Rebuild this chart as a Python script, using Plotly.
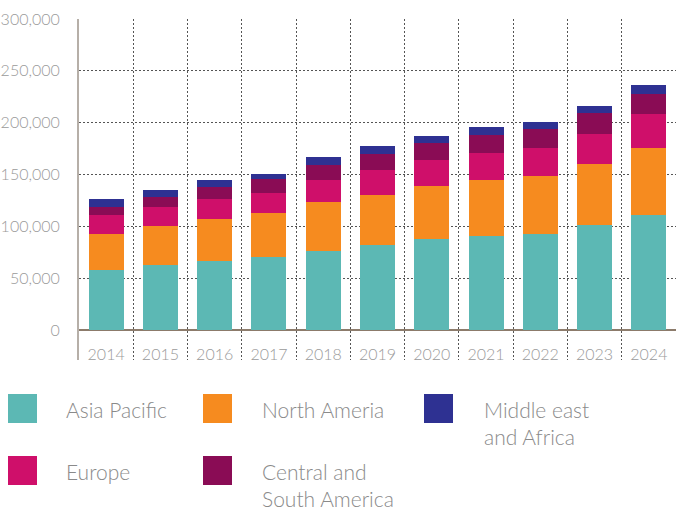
import plotly.graph_objects as go

years = ["2014", "2015", "2016", "2017", "2018", "2019", "2020", "2021", "2022", "2023", "2024"]
asia_pacific = [58000, 62500, 66500, 70000, 76500, 82000, 87500, 91000, 93000, 101000, 110500]
north_america = [35000, 38000, 40500, 42500, 46500, 48500, 51000, 54000, 56000, 59500, 65500]
europe = [17500, 18500, 19500, 19300, 22000, 24000, 25000, 26000, 27000, 29000, 32000]
central_south_america = [8500, 9500, 11000, 13500, 14500, 15500, 17000, 17500, 17500, 19500, 20000]
middle_east_africa = [7000, 7000, 7500, 5500, 7000, 7000, 6500, 7500, 7000, 7500, 8500]

series = [
    ("Asia Pacific", asia_pacific, "#5cb8b4"),
    ("North Ameria", north_america, "#f68b1f"),
    ("Europe", europe, "#cf0f6a"),
    ("Central and<br>South America", central_south_america, "#8a0c55"),
    ("Middle east<br>and Africa", middle_east_africa, "#2e3192"),
]

FONT = "Lato"
W, H = 676, 511
M_L, M_R, M_T, M_B = 79, 0, 19, 151
GRID = "#555555"

fig = go.Figure()
for name, vals, color in series:
    fig.add_trace(go.Bar(x=years, y=vals, name=name.replace("<br>", " "),
                         marker=dict(color=color, line=dict(width=0)),
                         showlegend=False))

fig.update_layout(
    width=W, height=H,
    margin=dict(l=M_L, r=M_R, t=M_T, b=M_B),
    barmode="stack", bargap=0.355,
    paper_bgcolor="white", plot_bgcolor="white",
    font=dict(family=FONT, weight=300, color="#9a9a9a", size=16),
    xaxis=dict(
        type="category", tickson="boundaries", showgrid=True,
        gridcolor=GRID, griddash="2px,2px", gridwidth=1,
        ticks="", showline=False, zeroline=False,
        tickfont=dict(family=FONT, weight=300, size=16, color="#9a9a9a"),
        ticklabelstandoff=-17,
    ),
    yaxis=dict(
        range=[-29000, 300000], tick0=0, dtick=50000, tickformat=",",
        showgrid=True, gridcolor=GRID, griddash="2px,2px", gridwidth=1,
        zeroline=True, zerolinecolor="#8c7b6b", zerolinewidth=2,
        showline=True, linecolor="#b6afa8", linewidth=2,
        ticks="", ticklabelstandoff=14,
        tickfont=dict(family=FONT, weight=300, size=16, color="#9a9a9a"),
    ),
)

# Custom legend (large square swatches, wrapped labels)
plot_h = H - M_T - M_B
plot_w = W - M_L - M_R

def px_to_paper(px, py):
    return (px - M_L) / plot_w, (H - M_B - py) / plot_h

legend_slots = [(8, 394), (203, 394), (8, 456), (203, 456), (424, 394)]
text_offset = [56, 57, 56, 57, 58]
sw = 29
for (name, vals, color), (sx, sy), toff in zip(series, legend_slots, text_offset):
    x0, y0 = px_to_paper(sx, sy)
    x1, y1 = px_to_paper(sx + sw, sy + sw)
    fig.add_shape(type="rect", xref="paper", yref="paper", x0=x0, x1=x1, y0=y1, y1=y0,
                  fillcolor=color, line=dict(width=0))
    tx, ty = px_to_paper(sx + toff, sy + 1)
    fig.add_annotation(xref="paper", yref="paper", x=tx, y=ty, text=name,
                       showarrow=False, xanchor="left", yanchor="top", align="left",
                       font=dict(family=FONT, weight=300, size=21, color="#8a8a8a"))

fig.write_html("out.html", config={"displayModeBar": False},
               post_script="document.body.style.margin='0';")
